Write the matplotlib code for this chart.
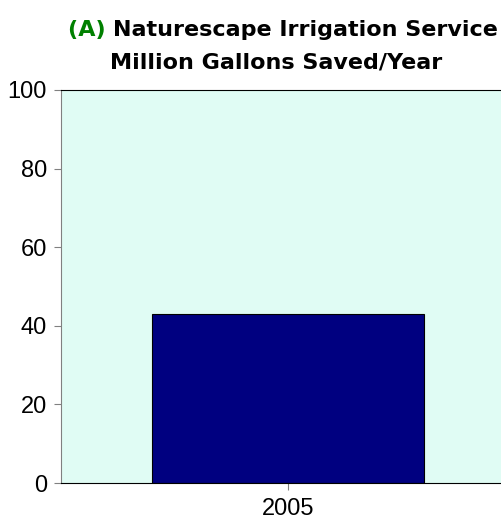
import matplotlib
matplotlib.use("Agg")
import matplotlib.pyplot as plt

years = ["2005"]
gallons_saved = [43]

title_prefix = "(A)"
title_line1 = "Naturescape Irrigation Service"
title_line2 = "Million Gallons Saved/Year"

fig = plt.figure(figsize=(5.02, 5.31), dpi=100)
ax = fig.add_axes([61 / 502, 1 - 483 / 531, 454 / 502, 393 / 531])
ax.set_facecolor("#E0FCF4")

ax.bar(range(len(years)), gallons_saved, width=0.6, color="#000080",
       edgecolor="black", linewidth=0.8)
ax.set_xlim(-0.5, len(years) - 0.5)
ax.set_ylim(0, 100)
ax.set_yticks([0, 20, 40, 60, 80, 100])
ax.set_xticks(range(len(years)))
ax.set_xticklabels(years)

for lab in ax.get_xticklabels() + ax.get_yticklabels():
    lab.set_fontfamily("Liberation Sans")
    lab.set_fontsize(17)
ax.tick_params(axis="y", length=5, width=0.8, color="#808080", pad=5)
ax.tick_params(axis="x", length=5, width=0.8, color="#808080", pad=6)

ax.spines["left"].set_color("#808080")
ax.spines["top"].set_color("black")
ax.spines["bottom"].set_color("black")
ax.spines["right"].set_visible(False)

# title: green "(A)" then black text, centred as one line
tfont = dict(fontfamily="DejaVu Sans", fontweight="bold", fontsize=16)
t1 = fig.text(0.5, 1 - 30 / 531, title_prefix + " " + title_line1,
              ha="center", va="center", **tfont)
fig.canvas.draw()
r = fig.canvas.get_renderer()
bb = t1.get_window_extent(r)
t1.remove()
x0 = (283 / 502) - (bb.width / 2) / fig.bbox.width
pa = fig.text(x0, 1 - 30 / 531, title_prefix + " ", ha="left", va="center",
              color="#008000", **tfont)
fig.canvas.draw()
pb = pa.get_window_extent(r)
fig.text(pb.x1 / fig.bbox.width, 1 - 30 / 531, title_line1, ha="left",
         va="center", color="black", **tfont)
fig.text(276 / 502, 1 - 63 / 531, title_line2, ha="center", va="center",
         color="black", **tfont)

fig.savefig("out.png", dpi=100)
